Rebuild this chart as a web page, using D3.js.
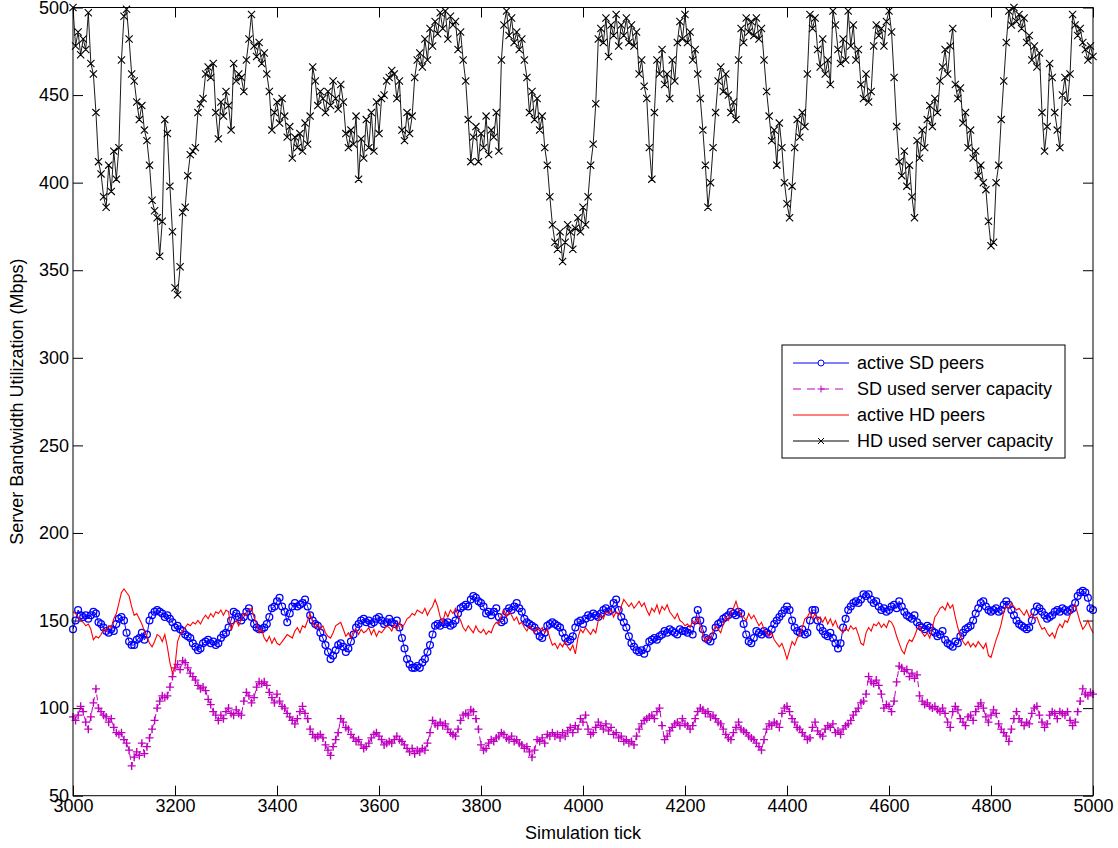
<!DOCTYPE html>
<html>
<head>
<meta charset="utf-8">
<script src="https://cdn.jsdelivr.net/npm/d3@7"></script>
<style>
  body { margin: 0; background: #fff; }
  svg text { font-family: "Liberation Sans", Arial, Helvetica, sans-serif; }
</style>
</head>
<body>
<svg id="chart" width="1118" height="848"></svg>
<script>
// Samples are taken every 5 simulation ticks, starting at tick 3000.
const tickStart = 3000;
const tickStep = 5;

// Active SD peers
const sdPeers = [
  145,150,156,153,152,153,151,153,155,154,149,148,146,144,143,145,144,148,151,152, // 3000
  150,143,138,136,136,139,140,143,139,142,150,153,155,156,155,154,152,153,151,149, // 3100
  146,147,145,144,142,141,140,137,135,133,134,137,138,139,137,138,136,137,140,142, // 3200
  143,146,150,155,154,152,150,152,155,157,152,148,146,145,145,146,148,152,157,158, // 3300
  161,163,158,155,149,154,158,160,158,159,160,162,158,153,150,148,147,143,140,136, // 3400
  132,128,130,133,136,137,135,132,134,138,142,146,148,150,151,149,150,148,149,151, // 3500
  152,150,148,149,151,149,148,150,146,140,134,128,125,123,123,124,123,126,128,132, // 3600
  136,142,147,148,147,149,148,149,147,148,150,154,157,158,159,158,162,164,163,161, // 3700
  160,158,154,155,153,155,157,152,149,150,155,157,156,158,160,157,155,151,149,148, // 3800
  147,146,144,141,140,143,147,148,149,148,147,146,143,140,138,139,141,146,149,150, // 3900
  148,151,153,152,154,153,152,154,156,157,155,156,160,162,156,152,149,146,141,137, // 4000
  135,133,132,133,131,134,138,139,140,139,141,142,144,143,145,144,143,142,145,144, // 4100
  144,143,145,142,150,156,150,145,140,139,138,141,146,148,149,151,152,153,155,154, // 4200
  153,155,154,148,142,138,137,140,144,143,142,144,143,142,145,148,150,152,154,156, // 4300
  158,156,150,146,144,143,145,142,143,150,156,156,150,146,144,142,141,143,140,137, // 4400
  134,137,146,151,156,158,160,161,160,162,165,164,165,162,160,161,158,156,157,155, // 4500
  156,158,159,157,161,158,155,153,152,151,153,149,147,146,145,147,146,144,143,141, // 4600
  142,144,139,137,136,135,138,137,141,143,145,146,147,150,154,157,160,161,158,156, // 4700
  155,156,157,155,156,159,161,159,156,153,150,148,147,146,145,146,150,155,158,157, // 4800
  155,153,151,152,153,155,156,155,157,156,155,156,157,160,164,166,167,166,163,157, // 4900
  156
];

// SD used server capacity
const sdUsed = [
  95,93,96,101,98,92,88,95,103,111,100,98,96,95,92,94,89,86,85,86,
  82,80,76,67,72,75,73,80,74,78,83,88,93,100,104,107,106,107,112,118,
  123,125,122,127,126,123,120,118,116,113,111,112,110,105,102,98,96,93,96,94,
  98,100,97,96,99,97,96,104,109,107,103,106,112,115,114,115,113,109,106,103,
  108,104,101,100,97,95,93,91,94,98,101,97,94,88,85,83,84,85,83,79,
  76,73,78,82,86,94,92,89,88,85,83,81,82,79,77,78,80,83,85,86,
  84,82,79,80,81,80,82,84,82,81,79,77,75,77,74,76,75,77,76,80,
  86,93,91,90,92,90,91,88,86,85,84,88,93,96,97,96,99,98,94,88,
  79,76,77,80,82,81,83,84,86,85,83,82,84,81,82,80,79,77,78,75,
  72,76,82,81,83,80,85,84,86,84,85,83,86,84,87,89,86,90,88,94,
  92,96,88,85,86,89,92,90,88,91,87,89,85,86,83,84,81,82,80,81,
  79,84,88,91,93,94,95,96,94,98,100,90,82,84,87,89,91,92,90,94,
  91,90,88,90,94,98,100,99,97,98,95,96,94,92,91,88,85,83,82,86,
  89,92,88,87,86,84,83,82,80,78,76,82,88,91,90,92,91,89,97,100,
  101,98,94,92,89,88,86,84,82,83,89,92,87,85,84,88,90,89,91,86,
  87,85,88,90,91,93,96,98,100,103,104,108,118,115,114,116,113,108,100,102,
  101,98,104,115,124,123,121,122,118,120,117,119,107,104,102,103,101,100,101,99,
  98,100,97,92,89,98,101,99,94,92,90,95,96,93,98,101,103,100,95,92,
  96,99,97,91,88,86,84,81,88,94,98,94,92,90,92,91,97,100,101,96,
  92,89,91,96,98,97,94,98,97,96,98,93,90,92,98,104,111,108,107,109,
  108
];

// Active HD peers
const hdPeers = [
  155,154,152,150,149,147,148,145,139,141,140,142,145,144,147,146,151,154,160,166,
  168,166,164,158,153,154,151,148,144,141,137,135,138,142,141,138,142,135,126,120,
  124,138,142,144,146,148,147,149,148,150,148,151,153,151,154,152,155,154,156,153,
  156,155,145,148,150,147,151,154,153,156,157,152,148,143,145,140,138,141,137,140,
  137,136,138,140,142,141,140,144,146,143,147,146,150,154,149,146,148,145,147,143,
  141,140,143,147,148,149,145,141,143,140,144,145,142,145,143,144,146,142,145,141,
  144,143,145,147,146,144,148,145,149,146,148,151,152,154,153,156,155,154,157,153,
  156,158,162,158,152,149,155,152,156,154,157,153,150,146,144,147,145,143,147,144,
  143,145,142,144,143,147,149,148,153,156,152,155,153,150,152,148,149,146,144,147,
  145,143,146,144,146,143,145,140,136,137,134,137,135,138,135,133,136,131,140,145,
  143,146,144,142,145,143,150,153,151,155,154,156,152,155,153,158,162,160,158,160,
  157,159,161,158,160,156,153,157,155,159,154,158,156,159,155,153,151,154,150,149,
  147,148,146,150,148,152,147,142,138,141,139,144,147,145,143,148,152,150,155,157,
  161,156,153,152,150,154,151,153,150,147,149,145,143,141,143,139,137,135,137,133,
  128,133,138,136,140,142,146,151,152,155,151,154,150,152,149,152,148,151,147,150,
  146,145,143,146,144,147,145,146,142,137,136,143,146,144,148,147,149,146,148,146,
  150,149,146,141,137,133,131,136,139,138,141,145,147,143,141,143,140,146,152,154,
  157,158,156,160,157,159,152,146,141,138,136,138,135,137,135,138,136,134,137,130,
  129,134,139,143,148,155,158,157,160,158,156,157,155,153,156,152,154,151,152,148,
  145,146,143,141,143,140,145,148,146,150,149,153,157,159,154,149,145,147,150,146,
  143
];

// HD used server capacity
const hdUsed = [
  500,478,486,473,482,476,497,468,462,440,412,405,392,386,410,395,418,402,420,470,
  495,499,482,462,458,446,436,444,430,424,410,390,384,380,358,378,436,428,398,372,
  340,336,352,383,386,404,416,418,420,440,445,448,462,466,460,468,440,425,446,438,
  452,444,430,468,458,462,460,452,470,482,496,478,472,480,468,474,462,452,430,440,
  446,434,448,438,426,432,414,426,420,428,418,434,422,438,466,458,444,452,448,440,
  452,444,458,448,442,456,446,428,420,430,422,438,402,425,414,436,420,440,418,446,
  428,448,450,458,460,464,462,448,458,430,424,440,428,438,460,470,474,466,482,470,
  488,478,492,485,497,488,498,482,495,490,492,476,486,470,458,436,412,426,432,412,
  428,420,438,416,430,426,440,418,470,490,498,484,494,480,486,476,482,470,460,440,
  452,436,448,430,438,420,410,392,376,366,362,372,355,366,376,372,362,374,380,372,
  386,376,392,410,422,445,482,488,480,494,472,490,484,496,478,490,484,494,480,490,
  478,486,462,470,455,448,420,402,440,470,462,476,456,462,448,470,458,480,492,482,
  496,480,486,470,476,462,448,430,410,386,400,420,440,458,466,452,462,450,440,446,
  436,470,488,480,494,486,492,484,494,482,488,470,452,438,424,430,410,434,420,400,
  388,380,398,420,436,426,440,432,462,496,488,494,476,466,482,462,470,456,498,490,
  476,468,482,470,498,478,490,470,476,456,448,462,446,452,478,490,484,488,478,492,
  498,486,460,432,412,404,418,398,410,392,380,424,414,430,420,436,444,432,448,440,
  458,466,476,462,478,488,456,448,454,434,440,420,430,414,418,404,410,400,396,378,
  364,366,400,410,436,458,480,498,490,500,492,496,488,494,480,484,470,478,466,474,
  440,418,432,468,460,440,430,420,450,460,446,462,496,490,484,488,480,476,470,478,
  472
];

const xTicks = [3000, 3200, 3400, 3600, 3800, 4000, 4200, 4400, 4600, 4800, 5000];
const yTicks = [50, 100, 150, 200, 250, 300, 350, 400, 450, 500];
const xLabel = "Simulation tick";
const yLabel = "Server Bandwidth Utilization (Mbps)";
const legendLabels = ["active SD peers", "SD used server capacity", "active HD peers", "HD used server capacity"];

const svg = d3.select("#chart");
const x = d3.scaleLinear().domain([3000, 5000]).range([73, 1093]);
const y = d3.scaleLinear().domain([50, 500]).range([795.7, 7.5]);
const tickOf = i => tickStart + i * tickStep;
const FONT = 18;

const SD_BLUE = "#0000ff";
const SD_MAG = "#bf00bf";
const HD_RED = "#ff0000";
const HD_BLACK = "#000000";

// ---- axes (ticks pointing inward on all four sides) ----
function styleAxis(g, keepText) {
  g.select(".domain").remove();
  g.selectAll(".tick line").attr("stroke", "#000").attr("stroke-width", 1);
  if (!keepText) g.selectAll(".tick text").remove();
  else g.selectAll(".tick text")
        .attr("font-size", FONT)
        .attr("font-family", "Liberation Sans, Arial, sans-serif")
        .attr("fill", "#000");
}

svg.append("g")
  .attr("transform", `translate(0,${y(50)})`)
  .call(d3.axisBottom(x).tickValues(xTicks).tickFormat(d3.format("d"))
        .tickSizeInner(-10).tickSizeOuter(0).tickPadding(4))
  .call(g => styleAxis(g, true));

svg.append("g")
  .attr("transform", `translate(0,${y(500)})`)
  .call(d3.axisTop(x).tickValues(xTicks).tickSizeInner(-10).tickSizeOuter(0))
  .call(g => styleAxis(g, false));

svg.append("g")
  .attr("transform", `translate(${x(3000)},0)`)
  .call(d3.axisLeft(y).tickValues(yTicks).tickFormat(d3.format("d"))
        .tickSizeInner(-10).tickSizeOuter(0).tickPadding(4))
  .call(g => styleAxis(g, true));

svg.append("g")
  .attr("transform", `translate(${x(5000)},0)`)
  .call(d3.axisRight(y).tickValues(yTicks).tickSizeInner(-10).tickSizeOuter(0))
  .call(g => styleAxis(g, false));

// axis titles
svg.append("text")
  .attr("x", (x(3000) + x(5000)) / 2)
  .attr("y", 839)
  .attr("text-anchor", "middle")
  .attr("font-size", FONT)
  .text(xLabel);

svg.append("text")
  .attr("transform", `translate(23,${(y(50) + y(500)) / 2}) rotate(-90)`)
  .attr("text-anchor", "middle")
  .attr("font-size", FONT)
  .text(yLabel);

// ---- series ----
const plot = svg.append("g");

function lineFor(values) {
  return d3.line().x((d, i) => x(tickOf(i))).y(d => y(d))(values);
}

function plusPath(values, s) {
  const p = d3.path();
  values.forEach((v, i) => {
    const cx = x(tickOf(i)), cy = y(v);
    p.moveTo(cx - s, cy); p.lineTo(cx + s, cy);
    p.moveTo(cx, cy - s); p.lineTo(cx, cy + s);
  });
  return p.toString();
}

function crossPath(values, s) {
  const p = d3.path();
  values.forEach((v, i) => {
    const cx = x(tickOf(i)), cy = y(v);
    p.moveTo(cx - s, cy - s); p.lineTo(cx + s, cy + s);
    p.moveTo(cx - s, cy + s); p.lineTo(cx + s, cy - s);
  });
  return p.toString();
}

// active SD peers: blue line with open circles
plot.append("path").attr("d", lineFor(sdPeers))
  .attr("fill", "none").attr("stroke", SD_BLUE).attr("stroke-width", 1);
plot.append("g").selectAll("circle").data(sdPeers).join("circle")
  .attr("cx", (d, i) => x(tickOf(i))).attr("cy", d => y(d)).attr("r", 3.4)
  .attr("fill", "none").attr("stroke", SD_BLUE).attr("stroke-width", 1.3);

// SD used server capacity: dashed magenta with plus markers
plot.append("path").attr("d", lineFor(sdUsed))
  .attr("fill", "none").attr("stroke", SD_MAG).attr("stroke-width", 1)
  .attr("stroke-dasharray", "6,4");
plot.append("path").attr("d", plusPath(sdUsed, 4))
  .attr("fill", "none").attr("stroke", SD_MAG).attr("stroke-width", 1.4);

// active HD peers: plain red line
plot.append("path").attr("d", lineFor(hdPeers))
  .attr("fill", "none").attr("stroke", HD_RED).attr("stroke-width", 1.1);

// HD used server capacity: black line with x markers
plot.append("path").attr("d", lineFor(hdUsed))
  .attr("fill", "none").attr("stroke", HD_BLACK).attr("stroke-width", 0.9);
plot.append("path").attr("d", crossPath(hdUsed, 3.6))
  .attr("fill", "none").attr("stroke", HD_BLACK).attr("stroke-width", 1.1);

// plot frame
svg.append("rect")
  .attr("x", x(3000)).attr("y", y(500))
  .attr("width", x(5000) - x(3000)).attr("height", y(50) - y(500))
  .attr("fill", "none").attr("stroke", "#000").attr("stroke-width", 1);

// ---- legend ----
const legend = svg.append("g");
legend.append("rect")
  .attr("x", 782).attr("y", 345).attr("width", 283).attr("height", 113)
  .attr("fill", "#fff").attr("stroke", "#000").attr("stroke-width", 1);

const legendStyles = [
  { color: SD_BLUE, dash: null, marker: "circle" },
  { color: SD_MAG, dash: "8,6", marker: "plus" },
  { color: HD_RED, dash: null, marker: null },
  { color: HD_BLACK, dash: null, marker: "cross" }
];

legendLabels.forEach((label, k) => {
  const st = legendStyles[k];
  const cy = 363 + k * 26;
  const row = legend.append("g");
  row.append("line").attr("x1", 793).attr("x2", 849).attr("y1", cy).attr("y2", cy)
    .attr("stroke", st.color).attr("stroke-width", 1)
    .attr("stroke-dasharray", st.dash);
  if (st.marker === "circle") {
    row.append("circle").attr("cx", 821).attr("cy", cy).attr("r", 3)
      .attr("fill", "#fff").attr("stroke", st.color);
  } else if (st.marker === "plus") {
    row.append("path").attr("d", `M817.5,${cy}H824.5M821,${cy - 3.5}V${cy + 3.5}`)
      .attr("stroke", st.color).attr("stroke-width", 1);
  } else if (st.marker === "cross") {
    row.append("path").attr("d", `M818,${cy - 3}L824,${cy + 3}M818,${cy + 3}L824,${cy - 3}`)
      .attr("stroke", st.color).attr("stroke-width", 1);
  }
  row.append("text").attr("x", 857).attr("y", cy).attr("dy", "0.35em")
    .attr("font-size", FONT).attr("fill", "#000").text(label);
});
</script>
</body>
</html>
